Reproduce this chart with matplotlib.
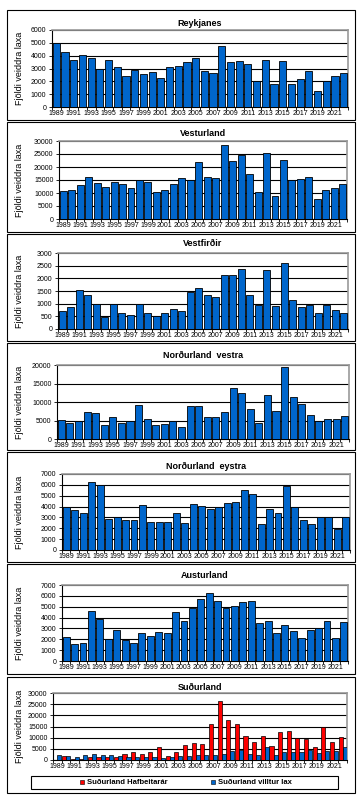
import numpy as np
import matplotlib
matplotlib.use('Agg')
import matplotlib.pyplot as plt
from matplotlib.patches import Rectangle

plt.rcParams['font.family'] = ['Liberation Sans', 'DejaVu Sans']

## DATA
years = list(range(1989, 2023))
tick_years = list(range(1989, 2022, 2))

reykjanes = [5000, 4300, 3650, 4050, 3800, 2950, 3650, 3130, 2430, 2850, 2560, 2700,
             2250, 3130, 3200, 3520, 3800, 2770, 2640, 4730, 3500, 3550, 3320, 2000,
             3650, 1780, 3550, 1830, 2170, 2800, 1250, 2060, 2400, 2640]
vesturland = [10700, 11000, 13000, 16000, 13800, 12200, 14200, 13500, 11800, 15000,
              14200, 10500, 11000, 13500, 15600, 15100, 21800, 16300, 15700, 28300,
              22200, 24800, 17300, 10500, 25300, 9000, 22800, 15000, 15500, 16300,
              7700, 11300, 12000, 13500]
vestfirdir = [720, 880, 1530, 1350, 970, 490, 970, 650, 540, 970, 620, 510, 650, 800,
              720, 1480, 1610, 1350, 1270, 2120, 2120, 2380, 1350, 940, 2330, 920,
              2610, 1150, 880, 930, 620, 940, 750, 620]
nordurland_vestra = [5100, 4400, 4900, 7400, 7100, 3900, 6000, 4200, 4900, 9100, 5300,
                     3800, 4100, 4900, 3300, 8800, 8800, 6000, 5900, 7400, 13800, 12400,
                     8100, 4400, 11900, 7600, 19500, 11300, 9500, 6500, 4900, 5400,
                     5400, 6100]
nordurland_eystra = [4000, 3700, 3400, 6300, 5950, 2900, 3000, 2750, 2800, 4100, 2550,
                     2550, 2550, 3450, 2500, 4200, 4050, 3800, 3950, 4350, 4450, 5550,
                     5150, 2350, 3750, 3400, 5850, 4000, 2800, 2400, 3050, 3000, 1950,
                     3000]
austurland = [2250, 1600, 1650, 4650, 3850, 2000, 2850, 1950, 1650, 2550, 2300, 2650,
              2550, 4500, 3700, 4900, 5700, 6300, 5500, 4850, 5050, 5400, 5550, 3500,
              3700, 2550, 3350, 2750, 2100, 2850, 3050, 3650, 2100, 3600]
sudurland_hafbeit = [0, 1760, 600, 600, 1200, 1470, 1470, 1300, 2900, 3700, 2800, 3800,
                     5600, 1900, 3700, 6500, 7500, 7060, 16000, 26600, 17900, 15900,
                     10600, 8200, 10600, 6300, 12350, 13200, 10000, 9300, 5600, 14700,
                     7900, 10100]
sudurland_villtur = [2200, 1760, 1470, 2200, 2650, 2200, 2200, 1760, 1470, 1200, 1200,
                     1470, 900, 1470, 1900, 1900, 2060, 2350, 2350, 2900, 4100, 4550,
                     2900, 2350, 5700, 2200, 3500, 3500, 3500, 4550, 3100, 4100, 4100,
                     5600]

titles = ['Reykjanes', 'Vesturland', 'Vestfirðir', 'Norðurland  vestra',
          'Norðurland  eystra', 'Austurland', 'Suðurland']
ylabel = 'Fjöldi veiddra laxa'
legend_labels = ['Suðurland Hafbeitarár', 'Suðurland villtur lax']

BLUE = '#0066CC'
RED = '#FF0000'

W, H = 359, 797

# panel layout in pixels: border (top, bottom), plot area (left, top, right, bottom), title y
panels = [
    dict(box=(10, 120), plot=(52, 30, 348, 107), ty=23, ymax=6000, step=1000),
    dict(box=(122, 232), plot=(59, 141, 347, 219), ty=134, ymax=30000, step=5000),
    dict(box=(234, 341), plot=(58, 253, 348, 329), ty=243, ymax=3000, step=500),
    dict(box=(343, 450), plot=(57, 365, 349, 439), ty=355, ymax=20000, step=5000),
    dict(box=(452, 562), plot=(62, 474, 350, 550), ty=466, ymax=7000, step=1000),
    dict(box=(564, 674), plot=(62, 585, 348, 661), ty=576, ymax=7000, step=1000),
    dict(box=(677, 793), plot=(53, 693, 347, 760), ty=687, ymax=30000, step=5000),
]
single_series = [reykjanes, vesturland, vestfirdir, nordurland_vestra,
                 nordurland_eystra, austurland]


def rect(l, t, r, b):
    return [l / W, 1 - b / H, (r - l) / W, (b - t) / H]


def fig_box(l, t, r, b, **kw):
    fig.patches.append(Rectangle((l / W, 1 - b / H), (r - l) / W, (b - t) / H,
                                 transform=fig.transFigure, **kw))


fig = plt.figure(figsize=(W / 100, H / 100), dpi=100)
x = np.arange(len(years))

for i, p in enumerate(panels):
    bt, bb = p['box']
    fig_box(7, bt, 355, bb, fill=False, edgecolor='black', linewidth=0.8)
    l, t, r, b = p['plot']
    ax = fig.add_axes(rect(l, t, r, b))

    if i < 6:
        ax.bar(x, single_series[i], width=0.82, color=BLUE, edgecolor='black',
               linewidth=0.6, zorder=3)
    else:
        ax.bar(x - 0.235, sudurland_hafbeit, width=0.47, color=RED,
               edgecolor='black', linewidth=0.5, zorder=3)
        ax.bar(x + 0.235, sudurland_villtur, width=0.47, color=BLUE,
               edgecolor='black', linewidth=0.5, zorder=3)

    ax.set_xlim(-0.5, len(years) - 0.5)
    ax.set_ylim(0, p['ymax'])
    ax.set_yticks(np.arange(0, p['ymax'] + 1, p['step']))
    ax.set_yticklabels([str(v) for v in range(0, p['ymax'] + 1, p['step'])])
    ax.yaxis.grid(True, color='black', linewidth=0.8, zorder=0)
    ax.set_axisbelow(True)

    ax.set_xticks([y - 1989 for y in tick_years])
    ax.set_xticklabels([str(y) for y in tick_years])
    ax.set_xticks(np.arange(-0.5, len(years)), minor=True)
    ax.tick_params(axis='x', which='major', length=0, pad=2.5, labelsize=5)
    ax.tick_params(axis='x', which='minor', length=2.5, width=0.6, direction='out')
    ax.tick_params(axis='y', length=2.5, width=0.6, pad=1.5, labelsize=5)

    for side in ['left', 'bottom']:
        ax.spines[side].set_color('black')
        ax.spines[side].set_linewidth(0.8)
    for side in ['top', 'right']:
        ax.spines[side].set_color('#999999')
        ax.spines[side].set_linewidth(1.2)

    fig.text(((l + r) / 2) / W, 1 - p['ty'] / H, titles[i], ha='center', va='center',
             fontsize=6.5, fontweight='bold')
    fig.text(20 / W, 1 - ((t + b) / 2) / H, ylabel, rotation=90, ha='center',
             va='center', fontsize=6.5)

# legend for Suðurland, drawn by hand so the entries sit where the reference has them
fig_box(31, 776, 338, 789, fill=False, edgecolor='black', linewidth=0.8)
for color, label, mx in [(RED, legend_labels[0], 80), (BLUE, legend_labels[1], 211)]:
    fig_box(mx, 780, mx + 4, 784, facecolor=color, edgecolor='black', linewidth=0.4)
    fig.text((mx + 7) / W, 1 - 782.5 / H, label, ha='left', va='center',
             fontsize=5.5, fontweight='bold')

fig.savefig('out.png', dpi=100)
